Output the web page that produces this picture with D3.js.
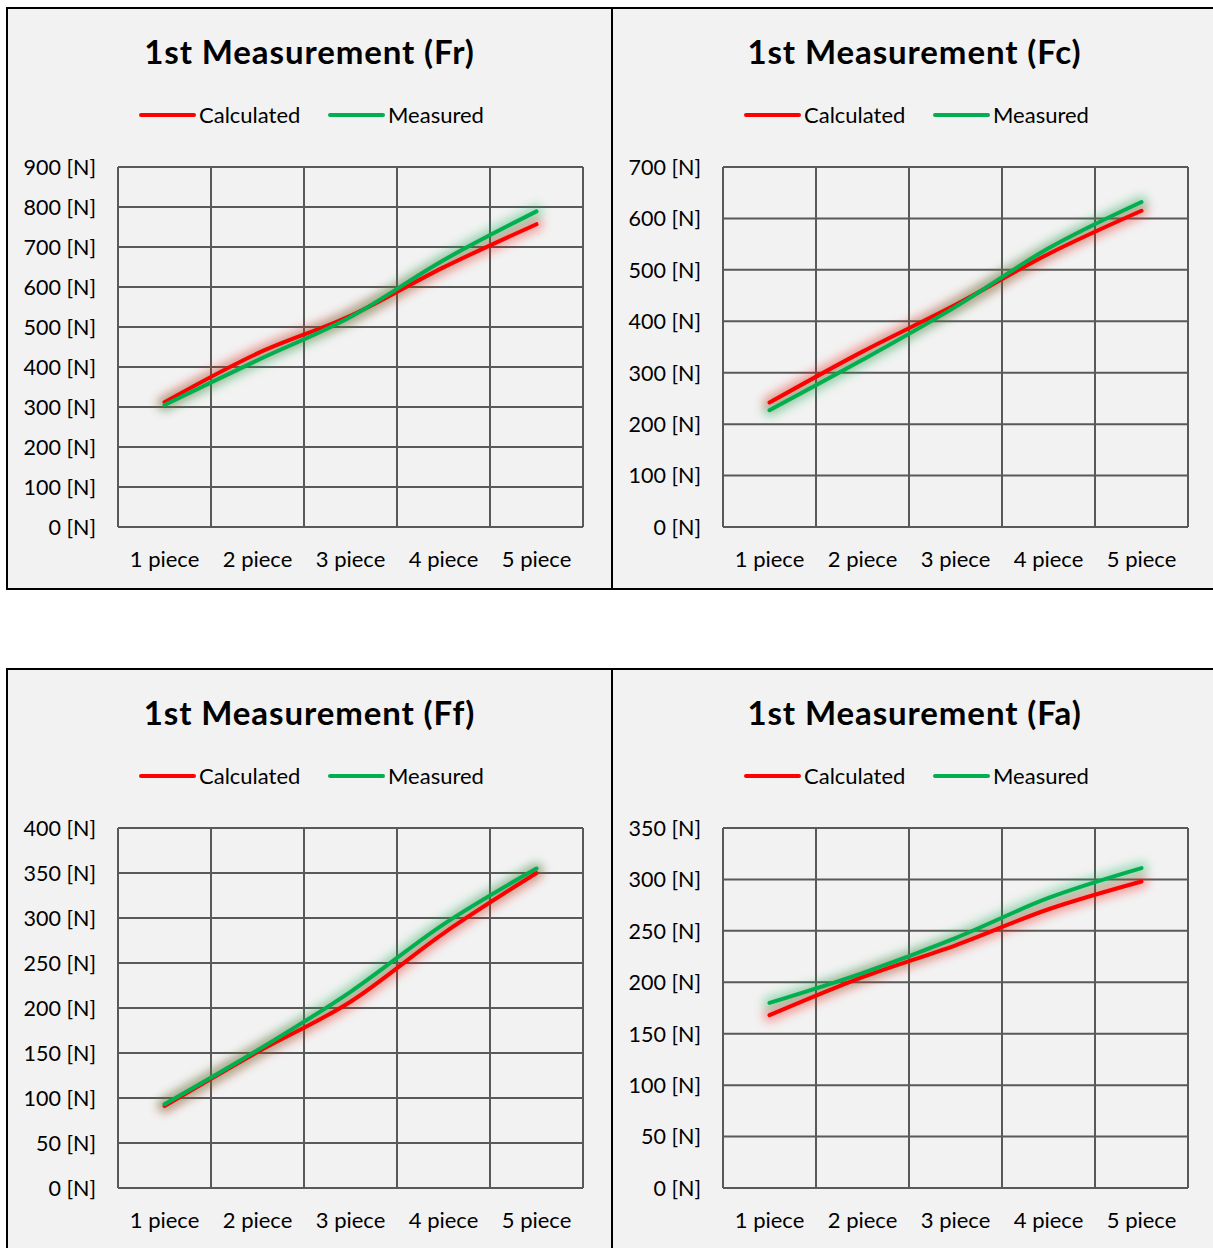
<!DOCTYPE html>
<html>
<head>
<meta charset="utf-8">
<script src="https://cdn.jsdelivr.net/npm/d3@7"></script>
<style>
  html, body { margin: 0; padding: 0; background: #ffffff; }
  svg { display: block; }
  text { font-family: Lato, "Open Sans", sans-serif; fill: #000; }
</style>
</head>
<body>
<svg id="chart" width="1213" height="1248"></svg>
<script>
// ---- data ----
const categories = ["1 piece", "2 piece", "3 piece", "4 piece", "5 piece"];
const seriesNames = ["Calculated", "Measured"];
const seriesColors = ["#FF0000", "#00B050"];

const titles = ["1st Measurement (Fr)", "1st Measurement (Fc)", "1st Measurement (Ff)", "1st Measurement (Fa)"];

const frCalculated = [312, 434, 528, 649, 757];
const frMeasured   = [305, 417, 525, 667, 789];
const fcCalculated = [242, 341, 432, 531, 615];
const fcMeasured   = [227, 325, 428, 542, 632];
const ffCalculated = [91, 151, 207, 283, 350];
const ffMeasured   = [93, 153, 218, 293, 355];
const faCalculated = [168, 205, 236, 271, 298];
const faMeasured   = [180, 209, 243, 282, 311];

const frTicks = [0, 100, 200, 300, 400, 500, 600, 700, 800, 900];
const fcTicks = [0, 100, 200, 300, 400, 500, 600, 700];
const ffTicks = [0, 50, 100, 150, 200, 250, 300, 350, 400];
const faTicks = [0, 50, 100, 150, 200, 250, 300, 350];

const tickFormat = v => v + " [N]";

// ---- layout ----
const panels = [
  { title: titles[0], series: [frCalculated, frMeasured], ticks: frTicks, x: 7,   y: 8 },
  { title: titles[1], series: [fcCalculated, fcMeasured], ticks: fcTicks, x: 612, y: 8 },
  { title: titles[2], series: [ffCalculated, ffMeasured], ticks: ffTicks, x: 7,   y: 669 },
  { title: titles[3], series: [faCalculated, faMeasured], ticks: faTicks, x: 612, y: 669 }
];

const svg = d3.select("#chart");
const defs = svg.append("defs");
const glow = defs.append("filter").attr("id", "glow")
  .attr("x", "-20%").attr("y", "-30%").attr("width", "140%").attr("height", "160%");
glow.append("feGaussianBlur").attr("stdDeviation", 5);

const panelW = 605, panelH = 581;
const plotL = 111, plotT = 159, plotW = 465, plotH = 360;
const gridColor = "#595959";
const font = "Lato, 'Open Sans', sans-serif";

panels.forEach(p => {
  const g = svg.append("g").attr("transform", `translate(${p.x},${p.y})`);

  // panel background + border
  g.append("rect")
    .attr("x", 0).attr("y", 0)
    .attr("width", p.x > 600 ? 700 : panelW).attr("height", p.y > 600 ? 700 : panelH)
    .attr("fill", "#F2F2F2").attr("stroke", "#000").attr("stroke-width", 2);

  // title
  g.append("text")
    .attr("x", 302.5).attr("y", 56)
    .attr("text-anchor", "middle")
    .attr("font-size", 33).attr("font-weight", 700)
    .attr("letter-spacing", 0.9)
    .text(p.title);

  // legend
  const leg = g.append("g").attr("transform", "translate(0,107)");
  const legX = [134, 323];
  seriesNames.forEach((name, i) => {
    leg.append("line")
      .attr("x1", legX[i]).attr("x2", legX[i] + 53)
      .attr("y1", 0).attr("y2", 0)
      .attr("stroke", seriesColors[i]).attr("stroke-width", 4)
      .attr("stroke-linecap", "round");
    leg.append("text")
      .attr("x", legX[i] + 58).attr("y", 8)
      .attr("font-size", 22)
      .text(name);
  });

  const plot = g.append("g").attr("transform", `translate(${plotL},${plotT})`);
  const x = d3.scaleBand().domain(categories).range([0, plotW]);
  const maxT = d3.max(p.ticks);
  const y = d3.scaleLinear().domain([0, maxT]).range([plotH, 0]);

  // horizontal gridlines
  plot.append("g").selectAll("line").data(p.ticks).join("line")
    .attr("x1", 0).attr("x2", plotW)
    .attr("y1", d => y(d)).attr("y2", d => y(d))
    .attr("stroke", gridColor).attr("stroke-width", 2);
  // vertical gridlines
  const vx = categories.map(c => x(c)).concat([plotW]);
  plot.append("g").selectAll("line").data(vx).join("line")
    .attr("x1", d => d).attr("x2", d => d)
    .attr("y1", 0).attr("y2", plotH)
    .attr("stroke", gridColor).attr("stroke-width", 2);

  // y axis labels
  const yAxis = d3.axisLeft(y).tickValues(p.ticks).tickFormat(tickFormat).tickSize(0).tickPadding(22);
  const ya = plot.append("g").call(yAxis);
  ya.select(".domain").remove();
  ya.selectAll("text").attr("font-size", 21.5).attr("font-family", font).attr("fill", "#000").attr("dy", "0.34em");

  // x axis labels
  const xAxis = d3.axisBottom(x).tickSize(0).tickPadding(24);
  const xa = plot.append("g").attr("transform", `translate(0,${plotH})`).call(xAxis);
  xa.select(".domain").remove();
  xa.selectAll("text").attr("font-size", 22).attr("font-family", font).attr("fill", "#000");

  // lines
  const line = d3.line()
    .x((d, i) => x(categories[i]) + x.bandwidth() / 2)
    .y(d => y(d))
    .curve(d3.curveCatmullRom.alpha(0));

  p.series.forEach((s, i) => {
    plot.append("path").datum(s)
      .attr("d", line).attr("fill", "none")
      .attr("stroke", seriesColors[i]).attr("stroke-opacity", 0.32)
      .attr("stroke-width", 14).attr("stroke-linecap", "round")
      .attr("filter", "url(#glow)");
  });
  p.series.forEach((s, i) => {
    plot.append("path").datum(s)
      .attr("d", line).attr("fill", "none")
      .attr("stroke", seriesColors[i]).attr("stroke-width", 4)
      .attr("stroke-linecap", "round").attr("stroke-linejoin", "round");
  });
});
</script>
</body>
</html>
